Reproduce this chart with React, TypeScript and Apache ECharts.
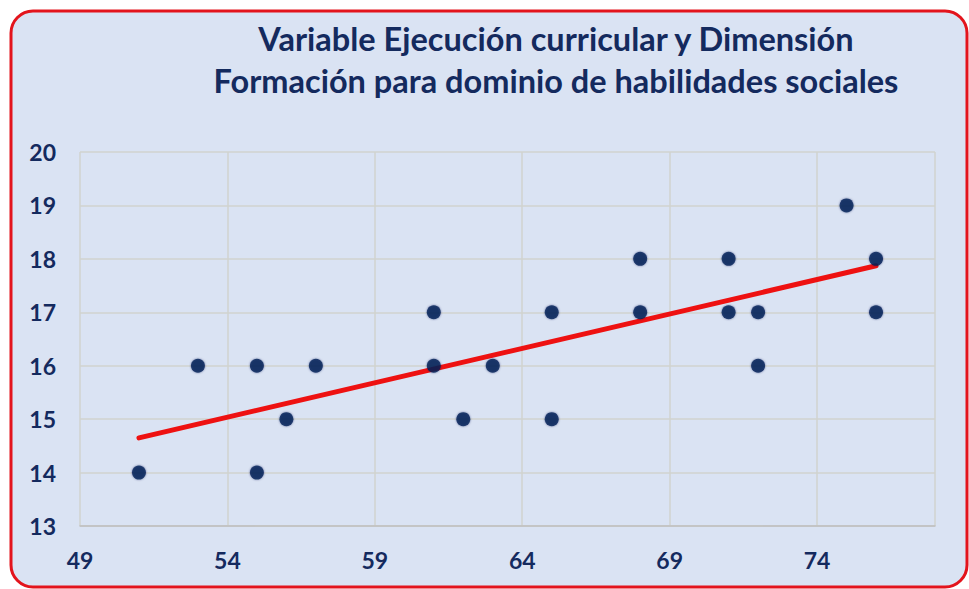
import React, { useEffect, useRef } from "react";
import * as echarts from "echarts";

const titleLines = [
  "Variable Ejecución curricular y Dimensión",
  "Formación para dominio de habilidades sociales",
];
const xValues = [51, 53, 55, 55, 56, 57, 61, 61, 62, 63, 65, 65, 68, 68, 71, 71, 72, 72, 75, 76, 76];
const yValues = [14, 16, 16, 14, 15, 16, 17, 16, 15, 16, 17, 15, 18, 17, 18, 17, 17, 16, 19, 18, 17];
const trendX = [51, 76];
const trendY = [14.65, 17.87];

export default function App() {
  const ref = useRef<HTMLDivElement>(null);
  useEffect(() => {
    if (!ref.current) return;
    const chart = echarts.init(ref.current, null, { renderer: "svg" });
    const font = "Lato, 'Open Sans', sans-serif";
    const navy = "#142a5e";
    chart.setOption({
      animation: false,
      graphic: [
        {
          type: "rect",
          z: -10,
          shape: { x: 11, y: 11, width: 956, height: 576, r: 22 },
          style: { fill: "#dae3f3", stroke: "#e3141c", lineWidth: 3 },
        },
        {
          type: "text",
          x: 556,
          y: 17,
          style: {
            text: titleLines.join("\n"),
            font: `bold 32.5px ${font}`,
            fill: navy,
            align: "center",
            verticalAlign: "top",
            lineHeight: 42,
          },
        },
      ],
      grid: { left: 80, right: 34, top: 152, bottom: 63 },
      xAxis: {
        type: "value",
        min: 49,
        max: 78,
        interval: 5,
        axisLine: { show: true, lineStyle: { color: "#bfbfbf", width: 1.5 } },
        axisTick: { show: false },
        splitLine: { show: true, lineStyle: { color: "#d0d3cf", width: 1.5 } },
        axisLabel: {
          showMaxLabel: false,
          color: navy,
          fontWeight: "bold",
          fontSize: 23,
          fontFamily: font,
          margin: 22,
        },
      },
      yAxis: {
        type: "value",
        min: 13,
        max: 20,
        interval: 1,
        axisLine: { show: false },
        axisTick: { show: false },
        splitLine: { show: true, lineStyle: { color: "#d0d3cf", width: 1.5 } },
        axisLabel: {
          color: navy,
          fontWeight: "bold",
          fontSize: 23,
          fontFamily: font,
          margin: 24,
        },
      },
      series: [
        {
          type: "line",
          data: trendX.map((x, i) => [x, trendY[i]]),
          showSymbol: false,
          symbol: "none",
          lineStyle: { color: "#ee1111", width: 5, cap: "round" },
          z: 2,
        },
        {
          type: "scatter",
          data: xValues.map((x, i) => [x, yValues[i]]),
          symbolSize: 14,
          itemStyle: { color: "#021c56", shadowBlur: 2, shadowColor: "rgba(2,28,86,0.6)" },
          z: 3,
        },
      ],
    });
    return () => chart.dispose();
  }, []);
  return (
    <div
      ref={ref}
      style={{ position: "fixed", left: 0, top: 0, width: 969, height: 589, background: "#fff" }}
    />
  );
}
